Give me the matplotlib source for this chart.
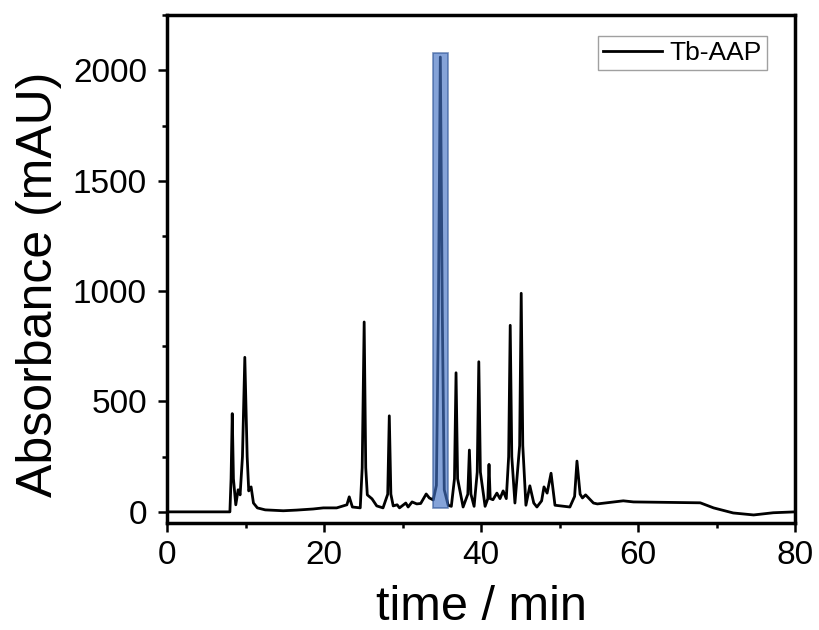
import matplotlib.pyplot as plt
from matplotlib.patches import Rectangle
from matplotlib.ticker import MultipleLocator

# chromatogram trace (time in min, absorbance in mAU)
time = [0, 8.0, 8.15, 8.3, 8.45, 8.75, 9.05, 9.3, 9.6, 9.9, 10.2, 10.4, 10.7,
        11.0, 11.5, 12.5, 14.8, 16.5, 18.6, 19.9, 21.6, 22.9, 23.2, 23.6,
        24.6, 24.85, 25.1, 25.3, 25.5, 26.1, 26.7, 27.5, 28.1, 28.3, 28.5,
        28.8, 29.3, 29.6, 30.4, 30.7, 31.2, 31.8, 32.3, 33.0, 33.4, 33.9,
        34.3, 34.55, 34.8, 35.05, 35.3, 35.8, 36.2, 36.6, 36.8, 37.0, 37.7,
        38.3, 38.5, 38.7, 39.1, 39.5, 39.7, 39.9, 40.5, 40.85, 41.0, 41.15,
        41.5, 42.0, 42.4, 42.8, 43.2, 43.5, 43.7, 43.9, 44.3, 44.9, 45.1,
        45.3, 45.7, 46.2, 46.7, 47.1, 47.7, 48.0, 48.4, 48.9, 49.4, 51.3,
        51.9, 52.2, 52.6, 52.9, 53.3, 54.3, 54.8, 58.1, 59.4, 67.9, 69.6,
        72.1, 74.7, 77.2, 80.0]
absorbance = [0, 0, 150, 445, 150, 32, 100, 77, 250, 700, 250, 95, 113,
              40, 18, 9, 5, 8, 13, 18, 18, 32, 68, 22,
              18, 200, 860, 200, 77, 59, 27, 18, 80, 435, 80,
              27, 32, 18, 40, 22, 45, 36, 38, 81, 63, 54,
              120, 900, 2060, 900, 100, 30, 25, 150, 630, 150, 22,
              80, 280, 80, 25, 180, 680, 180, 25, 60, 215, 60,
              55, 85, 60, 95, 60, 250, 845, 250, 40, 300, 990,
              300, 30, 118, 40, 22, 50, 113, 85, 175, 30, 22,
              70, 230, 80, 63, 77, 40, 36, 50, 45, 41, 18,
              -5, -14, -4, 0]

# highlighted fraction
hl_start, hl_end = 33.9, 35.8
hl_bottom, hl_top = 18, 2080

plt.rcParams['font.family'] = ['Liberation Sans', 'DejaVu Sans']

fig = plt.figure(figsize=(8.19, 6.3), dpi=100)
ax = fig.add_axes([0.204, 0.170, 0.767, 0.806])

ax.plot(time, absorbance, color='black', linewidth=2.0, label='Tb-AAP')
ax.add_patch(Rectangle((hl_start, hl_bottom), hl_end - hl_start, hl_top - hl_bottom,
                       facecolor='#4472C4', edgecolor='#2F5597', alpha=0.65,
                       linewidth=1.2, zorder=3))

ax.set_xlim(0, 80)
ax.set_ylim(-50, 2250)
ax.xaxis.set_major_locator(MultipleLocator(20))
ax.xaxis.set_minor_locator(MultipleLocator(10))
ax.yaxis.set_major_locator(MultipleLocator(500))
ax.yaxis.set_minor_locator(MultipleLocator(250))
ax.tick_params(which='both', direction='out', width=1.8, labelsize=24)
ax.tick_params(axis='y', pad=8)
ax.tick_params(axis='x', pad=6)
ax.tick_params(which='major', length=6.5)
ax.tick_params(which='minor', length=3.5)
for s in ax.spines.values():
    s.set_linewidth(2.5)

ax.set_xlabel('time / min', fontsize=35, labelpad=10)
ax.set_ylabel('Absorbance (mAU)', fontsize=36)
ax.yaxis.set_label_coords(-0.168, 0.469)

leg = ax.legend(loc='upper right', bbox_to_anchor=(0.955, 0.959), borderaxespad=0,
                fontsize=19, fancybox=False, handlelength=2.2, handletextpad=0.3,
                borderpad=0.2)
leg.get_frame().set_edgecolor('#888888')
leg.get_frame().set_linewidth(1.0)

fig.savefig('out.png', dpi=100)
